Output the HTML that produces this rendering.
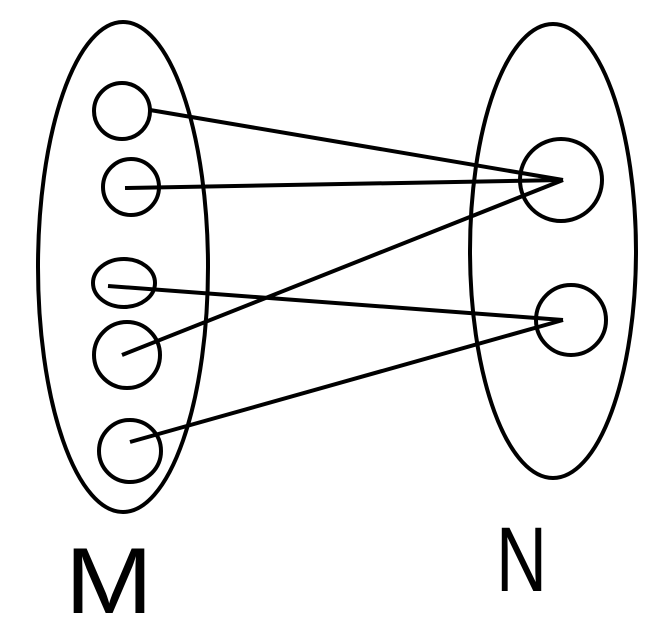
<!DOCTYPE html>
<html><head><meta charset="utf-8"><style>
html,body{margin:0;padding:0;background:#fff;}
svg{display:block;}
</style></head><body>
<svg width="659" height="641" viewBox="0 0 659 641" xmlns="http://www.w3.org/2000/svg">
<g fill="none" stroke="#000" stroke-width="4">
<ellipse cx="123" cy="267" rx="85" ry="245"/>
<ellipse cx="553" cy="251" rx="83" ry="227"/>
<circle cx="122" cy="111" r="28"/>
<circle cx="131" cy="187" r="28"/>
<ellipse cx="124" cy="283" rx="31" ry="24"/>
<circle cx="127" cy="355" r="33"/>
<circle cx="130" cy="451" r="31"/>
<circle cx="561" cy="180" r="41"/>
<circle cx="571" cy="320" r="35"/>
<line x1="150" y1="110" x2="563" y2="180"/>
<line x1="125" y1="188" x2="563" y2="180"/>
<line x1="122" y1="355" x2="563" y2="180"/>
<line x1="108" y1="286" x2="563" y2="320"/>
<line x1="130" y1="442" x2="563" y2="320"/>
</g>
<text x="65" y="613" font-family="Liberation Sans, sans-serif" font-size="94" textLength="88" lengthAdjust="spacingAndGlyphs" fill="#000">M</text>
<text x="496" y="591" font-family="Liberation Sans, sans-serif" font-size="92" textLength="51" lengthAdjust="spacingAndGlyphs" fill="#000">N</text>
</svg>
</body></html>
